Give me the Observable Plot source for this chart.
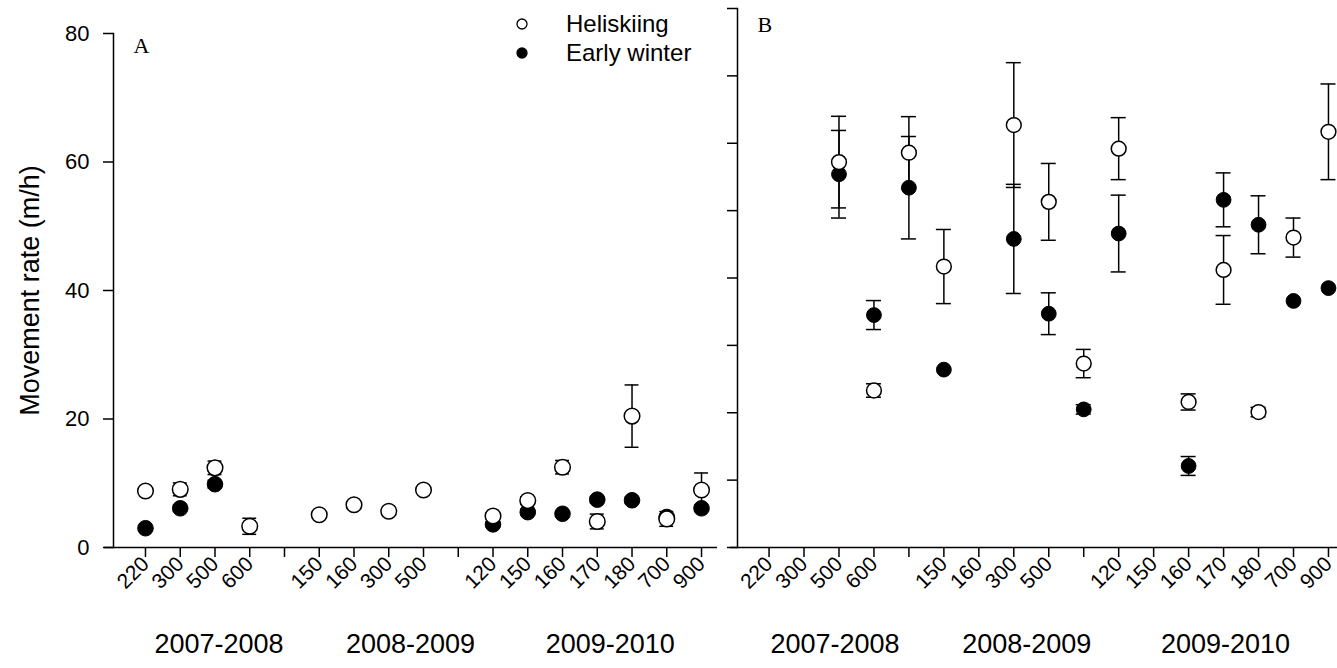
<!DOCTYPE html>
<html><head><meta charset="utf-8">
<script src="https://cdn.jsdelivr.net/npm/d3@7"></script>
<script src="https://cdn.jsdelivr.net/npm/@observablehq/plot@0.6"></script>
<style>
html,body{margin:0;padding:0;background:#fff;}
#wrap{position:relative;width:1337px;height:668px;overflow:hidden;font-family:"Liberation Sans",Arial,sans-serif;}
#wrap .panel{position:absolute;top:0;}
.legend{position:absolute;left:515px;top:9px;font-size:24px;line-height:29px;color:#000;}
.legend div{display:flex;align-items:center;}
.legend svg{margin-right:37px;}
</style></head><body><div id="wrap"></div>
<script>
// x slots (categories) and their tick labels
const slotKeys   = ["a220","a300","a500","a600","g1","b150","b160","b300","b500","g2","c120","c150","c160","c170","c180","c700","c900"];
const tickLabels = ["220","300","500","600","","150","160","300","500","","120","150","160","170","180","700","900"];
const yearLabels = ["2007-2008","2008-2009","2009-2010"];
const seriesNames = ["Heliskiing","Early winter"];

// Panel A
const heliKeysA = ["a220","a300","a500","a600","b150","b160","b300","b500","c120","c150","c160","c170","c180","c700","c900"];
const heliValsA = [8.8, 9.05, 12.4, 3.3, 5.1, 6.65, 5.65, 8.95, 4.9, 7.3, 12.5, 4.05, 20.45, 4.45, 8.95];
const heliErrA  = [0.5, 1.0, 1.05, 1.25, 0.4, 0.5, 0.4, 0.5, 0.5, 0.6, 1.05, 1.15, 4.85, 1.15, 2.65];
const earlyKeysA = ["a220","a300","a500","c120","c150","c160","c170","c180","c700","c900"];
const earlyValsA = [3.0, 6.1, 9.85, 3.6, 5.5, 5.25, 7.45, 7.35, 4.75, 6.1];
const earlyErrA  = [0.4, 0.5, 0.6, 0.4, 0.5, 0.4, 0.5, 0.5, 0.4, 0.5];

// Panel B
const heliKeysB = ["a500","a600","g1","b150","b300","b500","g2","c120","c160","c170","c180","c700","c900"];
const heliValsB = [57.2, 23.3, 58.6, 41.7, 62.7, 51.3, 27.3, 59.2, 21.6, 41.2, 20.1, 46.0, 61.7];
const heliErrB  = [6.8, 1.0, 5.35, 5.5, 9.26, 5.7, 2.1, 4.6, 1.2, 5.1, 0.7, 2.9, 7.1];
const earlyKeysB = ["a500","a600","g1","b150","b300","b500","g2","c120","c160","c170","c180","c700","c900"];
const earlyValsB = [55.4, 34.5, 53.4, 26.4, 45.8, 34.7, 20.5, 46.6, 12.1, 51.6, 47.9, 36.6, 38.5];
const earlyErrB  = [6.5, 2.15, 7.6, 0, 8.1, 3.1, 0.7, 5.7, 1.4, 4.0, 4.3, 0, 0];

const labelOf = Object.fromEntries(slotKeys.map((k, i) => [k, tickLabels[i]]));
const rows = (keys, vals, errs) => keys.map((k, i) => ({key: k, v: vals[i], e: errs[i]}));

function panel(o) {
  const hel = rows(o.hk, o.hv, o.he);
  const ear = rows(o.ek, o.ev, o.ee);
  const bars = [...hel, ...ear].filter(d => d.e > 0);
  const sw = 1.5;
  const marks = [
    Plot.ruleY([0], {stroke: "black", strokeWidth: sw, insetLeft: -o.axisExtend}),
    Plot.frame({anchor: "left", stroke: "black", strokeWidth: sw}),
    Plot.axisY({ticks: o.yTicks, tickSize: 10, tickPadding: 14, fontSize: 22, tickFormat: o.yFmt, label: null, strokeWidth: sw}),
    Plot.axisX({tickSize: 10, tickPadding: 3, tickRotate: -45, fontSize: 21, tickFormat: k => labelOf[k], label: null, strokeWidth: sw}),
    Plot.ruleX(bars, {x: "key", y1: d => d.v - d.e, y2: d => d.v + d.e, stroke: "black", strokeWidth: sw}),
    Plot.tickY(bars, {x: "key", y: d => d.v + d.e, stroke: "black", strokeWidth: sw}),
    Plot.tickY(bars, {x: "key", y: d => d.v - d.e, stroke: "black", strokeWidth: sw}),
    Plot.dot(ear, {x: "key", y: "v", r: o.r, fill: "black", stroke: "black", strokeWidth: 1}),
    Plot.dot(hel, {x: "key", y: "v", r: o.r, fill: "white", stroke: "black", strokeWidth: sw}),
    Plot.text([o.letter], {frameAnchor: "top-left", dx: o.letterDx, dy: o.letterDy, fontFamily: "Liberation Serif", fontSize: 22, textAnchor: "start", lineAnchor: "top"}),
    ...yearLabels.map((t, i) => Plot.text([t], {x: () => o.yearKeys[i], frameAnchor: "bottom", dy: 97, dx: o.yearDx[i], fontSize: 27, lineAnchor: "middle", style: "letter-spacing:0.3px"}))
  ];
  if (o.yTitle) marks.push(Plot.text([o.yTitle], {frameAnchor: "left", dx: -83, rotate: -90, fontSize: 27, textAnchor: "middle", lineAnchor: "middle", style: "letter-spacing:0.5px"}));
  return Plot.plot({
    width: o.width, height: 668,
    marginLeft: o.ml, marginRight: o.mr, marginTop: o.mt, marginBottom: 121,
    style: {fontFamily: "Liberation Sans, Arial, sans-serif", background: "white", overflow: "visible"},
    x: {type: "band", domain: slotKeys, paddingInner: o.pi, paddingOuter: o.po, align: o.align, round: false, axis: null},
    y: {domain: [0, 80], axis: null},
    marks
  });
}

const wrap = document.getElementById("wrap");
const A = panel({
  hk: heliKeysA, hv: heliValsA, he: heliErrA, ek: earlyKeysA, ev: earlyValsA, ee: earlyErrA,
  width: 730, ml: 113, mr: 13, mt: 33, pi: 0.6, po: 0.49, align: 0.735, axisExtend: 9,
  yTicks: [0, 20, 40, 60, 80], yFmt: d => d, r: 7.8, letter: "A", letterDx: 20, letterDy: 4,
  yearKeys: ["a500", "b500", "c170"], yearDx: [4, -13, 13], yTitle: "Movement rate (m/h)"
});
A.classList.add("panel"); A.style.left = "0px";
const B = panel({
  hk: heliKeysB, hv: heliValsB, he: heliErrB, ek: earlyKeysB, ev: earlyValsB, ee: earlyErrB,
  width: 617, ml: 17, mr: 0, mt: 8, pi: 0.571, po: 0.366, align: 0.94, axisExtend: 7,
  yTicks: d3.range(0, 81, 10), yFmt: () => "", r: 7.4, letter: "B", letterDx: 20, letterDy: 8,
  yearKeys: ["a500", "b300", "c170"], yearDx: [-4, 13, 2], yTitle: null
});
B.classList.add("panel"); B.style.left = "720px";
wrap.appendChild(A);
wrap.appendChild(B);

// legend
const leg = document.createElement("div");
leg.className = "legend";
seriesNames.forEach((name, i) => {
  const row = document.createElement("div");
  row.innerHTML = `<svg width="14" height="14"><circle cx="7" cy="7" r="5" fill="${i ? "black" : "white"}" stroke="black" stroke-width="1.3"/></svg><span>${name}</span>`;
  leg.appendChild(row);
});
wrap.appendChild(leg);
</script></body></html>
